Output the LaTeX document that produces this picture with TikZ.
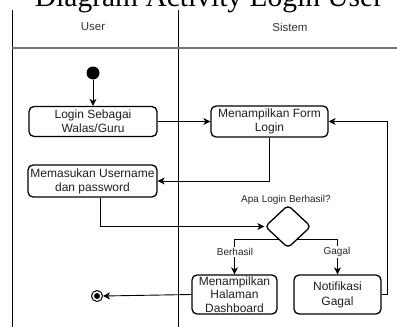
\documentclass[tikz,border=0pt]{standalone}
\usepackage{fontspec}
\setmainfont{Liberation Serif}
\newfontfamily\arialfont{Liberation Sans}
\usetikzlibrary{shapes.geometric,arrows.meta}
\begin{document}
\begin{tikzpicture}[x=1pt,y=-1pt,
  act/.style={draw, line width=1.3pt, rounded corners=5pt, align=center,
    inner sep=0pt, text=black!88,
    font=\arialfont\fontsize{12}{13.8}\selectfont},
  flow/.style={line width=0.9pt, -{Stealth[length=7pt,width=7pt,inset=2pt]}},
  lane/.style={line width=0.8pt},
  lanehead/.style={font=\arialfont\fontsize{11.5}{13}\selectfont, text=black!80},
  small/.style={font=\arialfont\fontsize{10}{12}\selectfont, text=black!85},
  guard/.style={small, fill=white, inner sep=1pt}]
  \path[use as bounding box] (0,0) rectangle (397,327);
  \clip (0,0) rectangle (397,327);

  % title
  \node[anchor=base, font=\fontsize{29.5}{33}\selectfont, inner sep=0pt] (title) at (209,6) {Diagram Activity Login User};

  % swimlanes
  \draw[lane] (12,10) -- (12,327);
  \draw[lane] (178,10) -- (178,327);
  \draw[line width=1.1pt, black!55] (12,48) -- (397,48);
  \node[lanehead] (lUser) at (93,27) {User};
  \node[lanehead] (lSys) at (290,27) {Sistem};

  % start / end
  \node[circle, fill=black, minimum size=13pt, inner sep=0pt] (start) at (93,73) {};
  \node[circle, draw, line width=1pt, minimum size=11pt, inner sep=0pt] (stop) at (97,296) {};
  \node[circle, fill=black, minimum size=6pt, inner sep=0pt] (stopdot) at (97,296) {};

  % actions
  \node[act, minimum width=128pt, minimum height=30pt] (login) at (93,121.5) {Login Sebagai\\Walas/Guru};
  \node[act, minimum width=117pt, minimum height=31pt] (form) at (269.5,121.5) {Menampilkan Form\\Login};
  \node[act, minimum width=129pt, minimum height=32pt] (input) at (92.5,181) {Memasukan Username\\dan password};
  \node[act, minimum width=85pt, minimum height=39pt, font=\arialfont\fontsize{12}{13.5}\selectfont] (dash) at (234.5,294.5) {Menampilkan\\Halaman\\Dashboard};
  \node[act, minimum width=87pt, minimum height=39pt, font=\arialfont\fontsize{12}{15}\selectfont] (fail) at (337.5,294.5) {Notifikasi\\Gagal};

  % decision branches (drawn under the diamond)
  \coordinate (split) at (288,239);
  \draw[flow] (split) -| (dash.north);
  \draw[flow] (split) -| (fail.north);
  \node[guard] (lOk) at (235,252) {Berhasil};
  \node[guard] (lNo) at (337,252) {Gagal};

  \node[diamond, draw, fill=white, line width=1.3pt, rounded corners=4pt,
        minimum width=46pt, minimum height=43pt, inner sep=0pt] (dec) at (288,226.5) {};
  \node[small] (q) at (286,199.5) {Apa Login Berhasil?};

  % flows
  \draw[flow] (start) -- (login.north);
  \draw[flow] (login.east) -- (form.west);
  \draw[flow] (form.south) |- (input.east);
  \draw[flow] ([xshift=7.5pt]input.south) |- (dec.west);
  \draw[flow] (fail.east) -- ++(6,0) |- (form.east);
  \draw[flow] (dash.west) -- (stop.east);
\end{tikzpicture}
\end{document}
